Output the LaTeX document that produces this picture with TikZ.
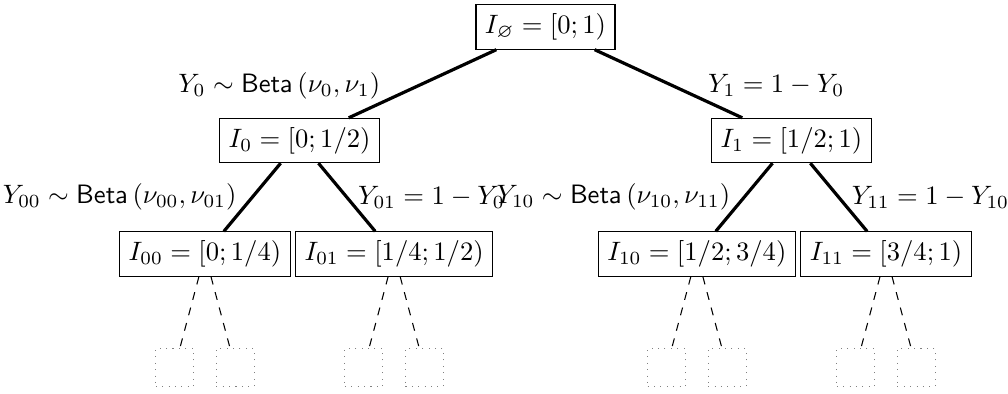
\documentclass[tikz,border=0pt]{standalone}
\usepackage{amssymb}
\begin{document}
\begin{tikzpicture}[
  box/.style={draw, thin, inner sep=.3333em},
  leaf/.style={draw=gray, dotted, minimum size=5mm, inner sep=0pt},
  solidedge/.style={very thick},
  dashedge/.style={thin, dashed},
  lab/.style={inner sep=.3333em}
]
\useasboundingbox (-205.1pt,-137.97pt) rectangle (173.9pt,10.15pt);
\node[box] (r) at (0,0) {$I_{\varnothing}=[0;1)$};
\node[box] (n0) at (-3.25,-1.5) {$I_{0}=[0;1/2)$};
\node[box] (n1) at (3.25,-1.5) {$I_{1}=[1/2;1)$};
\node[box] (n00) at (-4.5,-3) {$I_{00}=[0;1/4)$};
\node[box] (n01) at (-2,-3) {$I_{01}=[1/4;1/2)$};
\node[box] (n10) at (2,-3) {$I_{10}=[1/2;3/4)$};
\node[box] (n11) at (4.5,-3) {$I_{11}=[3/4;1)$};
\node[leaf] (n00a) at (-4.9,-4.5) {};
\node[leaf] (n00b) at (-4.1,-4.5) {};
\node[leaf] (n01a) at (-2.4,-4.5) {};
\node[leaf] (n01b) at (-1.6,-4.5) {};
\node[leaf] (n10a) at (1.6,-4.5) {};
\node[leaf] (n10b) at (2.4,-4.5) {};
\node[leaf] (n11a) at (4.1,-4.5) {};
\node[leaf] (n11b) at (4.9,-4.5) {};
\draw[solidedge] (r) -- node[lab, left=12pt, yshift=-0.8pt] (l0) {$Y_0\sim\mathsf{Beta}\left(\nu_0,\nu_1\right)$} (n0);
\draw[solidedge] (r) -- node[lab, right=11pt, yshift=-0.8pt] (l1) {$Y_1=1-Y_0$} (n1);
\draw[solidedge] (n0) -- node[lab, left=2pt] (l00) {$Y_{00}\sim\mathsf{Beta}\left(\nu_{00},\nu_{01}\right)$} (n00);
\draw[solidedge] (n0) -- node[lab, right=0.3pt] (l01) {$Y_{01}=1-Y_{0}$} (n01);
\draw[solidedge] (n1) -- node[lab, left=1.3pt] (l10) {$Y_{10}\sim\mathsf{Beta}\left(\nu_{10},\nu_{11}\right)$} (n10);
\draw[solidedge] (n1) -- node[lab, right=1pt] (l11) {$Y_{11}=1-Y_{10}$} (n11);
\draw[dashedge] (n00) -- (n00a);
\draw[dashedge] (n00) -- (n00b);
\draw[dashedge] (n01) -- (n01a);
\draw[dashedge] (n01) -- (n01b);
\draw[dashedge] (n10) -- (n10a);
\draw[dashedge] (n10) -- (n10b);
\draw[dashedge] (n11) -- (n11a);
\draw[dashedge] (n11) -- (n11b);
\end{tikzpicture}
\end{document}
